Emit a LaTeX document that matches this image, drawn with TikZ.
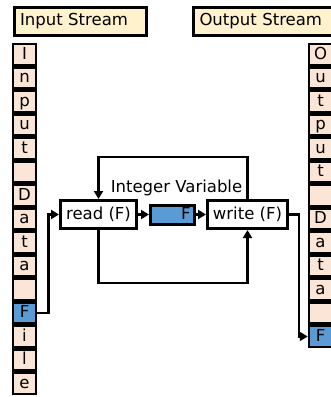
\documentclass[tikz,border=0pt]{standalone}
\usepackage{fontspec}
\setmainfont{DejaVu Sans}
\usetikzlibrary{arrows.meta}
\definecolor{cream}{HTML}{FFF2CC}
\definecolor{peach}{HTML}{FBE5D6}
\definecolor{varblue}{HTML}{5B9BD5}
\tikzset{
  cell/.style = {draw, line width = 2.5pt, inner sep = 0pt,
                 minimum width = 23pt, minimum height = 21pt,
                 text height = 12pt, text depth = 3pt},
  head/.style = {draw, line width = 3pt, fill = cream, inner xsep = 6pt,
                 minimum height = 28pt, align = left},
  func/.style = {draw, line width = 3pt, fill = white, minimum height = 28pt}
}
\begin{document}
\begin{tikzpicture}[x = 1pt, y = -1pt, line width = 2.6pt,
    > = {Triangle[length = 8pt, width = 9pt]},
    font = \fontsize{16.5}{19}\selectfont]
      \useasboundingbox (0,0) rectangle (331,397);
      \node [head, text width = 120pt] (instream) at (80,21) {Input Stream};
      \node [head, text width = 134pt, anchor = west] (outstream) at (192,21) {Output Stream};
      % stream cells
      \foreach \c/\f [count = \i] in {I/peach, n/peach, p/peach, u/peach, t/peach,
          {}/peach, D/peach, a/peach, t/peach, a/peach, {}/peach,
          F/varblue, i/peach, l/peach, e/peach}
        \node [cell, fill = \f] (in\i) at (24.5,{31+23.5*\i}) {\c};
      \foreach \c/\f [count = \i] in {O/peach, u/peach, t/peach, p/peach, u/peach,
          t/peach, {}/peach, D/peach, a/peach, t/peach, a/peach, {}/peach,
          F/varblue}
        \node [cell, fill = \f] (out\i) at (320.5,{31+23.5*\i}) {\c};
      % program
      \node [func, minimum width = 76pt] (read) at (98.5,214.5) {read (F)};
      \node [func, minimum width = 80pt] (write) at (247.5,214.5) {write (F)};
      \node [draw, line width = 3pt, fill = varblue, inner sep = 0pt,
             minimum width = 44pt, minimum height = 19pt, text height = 12pt,
             text depth = 2pt, align = right, text width = 36pt]
        (var) at (172.5,214.5) {F};
      \node (label) at (176.5,188) {Integer Variable};
      \draw [->] (read) -- (var);
      \draw [->] (var) -- (write);
      \draw [->] (write.north) -- ++(0,-42) -| (read.north);
      \draw [->] (read.south) -- ++(0,53) -| (write.south);
      \draw [->] (in12.east) -- ++(11,0) |- (read.west);
      \draw [->] (write.east) -- ++(10,0) |- (out13.west);
    \end{tikzpicture}
\end{document}
